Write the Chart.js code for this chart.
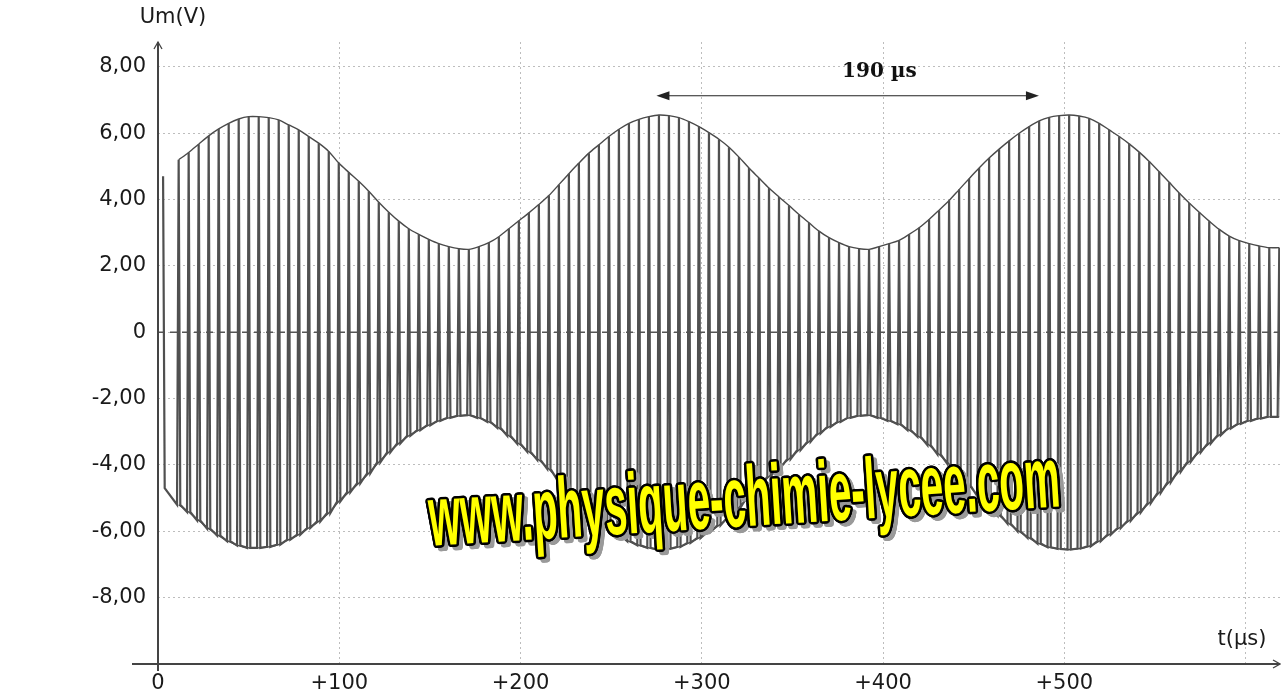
<!DOCTYPE html>
<html>
<head>
<meta charset="utf-8">
<title>Um(t)</title>
<script src="https://cdn.jsdelivr.net/npm/chart.js@4.4.1/dist/chart.umd.min.js"></script>
<style>
body { margin: 0; background: #fff; }
#wrap { width: 1281px; height: 699px; }
</style>
</head>
<body>
<div id="wrap"><canvas id="scope" width="1281" height="699"></canvas></div>
<script>
// peak voltage of every carrier cycle, read along the envelope (V)
let peakVolts = [
    5.2, 5.42, 5.67, 5.92, 6.13, 6.3, 6.43, 6.5, 6.5, 6.47,
    6.4, 6.25, 6.1, 5.9, 5.7, 5.45, 5.1, 4.82, 4.55, 4.25,
    3.92, 3.62, 3.35, 3.12, 2.95, 2.8, 2.67, 2.58, 2.52, 2.5,
    2.58, 2.7, 2.88, 3.12, 3.36, 3.6, 3.85, 4.12, 4.45, 4.78,
    5.1, 5.4, 5.65, 5.9, 6.12, 6.3, 6.42, 6.5, 6.55, 6.53,
    6.47, 6.35, 6.2, 6.02, 5.82, 5.58, 5.28, 4.95, 4.65, 4.35,
    4.08, 3.82, 3.55, 3.3, 3.05, 2.85, 2.7, 2.58, 2.52, 2.5,
    2.58, 2.67, 2.77, 2.95, 3.15, 3.4, 3.68, 3.97, 4.3, 4.63,
    4.95, 5.25, 5.52, 5.77, 6.0, 6.2, 6.37, 6.48, 6.53, 6.55,
    6.52, 6.45, 6.3, 6.1, 5.9, 5.68, 5.43, 5.15, 4.84, 4.52,
    4.2, 3.9, 3.62, 3.35, 3.1, 2.9, 2.76, 2.67, 2.6, 2.55,
    2.55
];
let firstPeak = 10.5;      // µs
let carrierPeriod = 5.52;  // µs
let leadTimes = [2.8];     // lone stroke at the very start
let leadVolts = [4.7];

let xTicks = [0, 100, 200, 300, 400, 500, 600];
let yTicks = [-8, -6, -4, -2, 0, 2, 4, 6, 8];

let periodLabel = "190 µs";
let periodFrom = 275;
let periodTo = 486;
let periodLevel = 7.13;

let siteText = "www.physique-chimie-lycee.com";


let carrierPoints = [];
for (let i = 0; i < leadTimes.length; i++) {
    carrierPoints.push({ x: leadTimes[i], y: leadVolts[i] });
    carrierPoints.push({ x: leadTimes[i] + 0.9, y: -leadVolts[i] });
}
let upperPoints = [];
let lowerPoints = [];
peakVolts.forEach((v, i) => {
    let t = firstPeak + i * carrierPeriod;
    carrierPoints.push({ x: t, y: -v });
    carrierPoints.push({ x: t + 0.9, y: v });
    carrierPoints.push({ x: t + 1.8, y: -v });
    upperPoints.push({ x: t + 0.9, y: v });
    lowerPoints.push({ x: t + 0.9, y: -v });
});


function chevron(ctx, x, y, dir) {
    ctx.beginPath();
    if (dir === "up") {
        ctx.moveTo(x - 4, y + 7);
        ctx.lineTo(x, y);
        ctx.lineTo(x + 4, y + 7);
    } else {
        ctx.moveTo(x - 7, y - 4);
        ctx.lineTo(x, y);
        ctx.lineTo(x - 7, y + 4);
    }
    ctx.stroke();
}

function arrowHead(ctx, x, y, dir) {
    ctx.beginPath();
    ctx.moveTo(x, y);
    ctx.lineTo(x - dir * 13, y - 4.5);
    ctx.lineTo(x - dir * 13, y + 4.5);
    ctx.closePath();
    ctx.fill();
}

let zeroLine = {
    id: "zeroLine",
    beforeDatasetsDraw(chart) {
        let ctx = chart.ctx;
        let area = chart.chartArea;
        let y0 = chart.scales.y.getPixelForValue(0);
        ctx.save();
        ctx.strokeStyle = "#555";
        ctx.lineWidth = 1.3;
        ctx.setLineDash([7, 5]);
        ctx.beginPath();
        ctx.moveTo(area.left, y0);
        ctx.lineTo(area.right, y0);
        ctx.stroke();
        ctx.restore();
    }
};

let decorations = {
    id: "decorations",
    afterDraw(chart) {
        let ctx = chart.ctx;
        let area = chart.chartArea;
        let xs = chart.scales.x;
        let ys = chart.scales.y;

        ctx.save();
        // axes
        ctx.strokeStyle = "#444";
        ctx.lineWidth = 2;
        ctx.beginPath();
        ctx.moveTo(area.left, area.top);
        ctx.lineTo(area.left, area.bottom + 7);
        ctx.moveTo(area.left - 26, area.bottom);
        ctx.lineTo(area.right, area.bottom);
        ctx.stroke();
        ctx.lineWidth = 1.3;
        chevron(ctx, area.left, area.top, "up");
        chevron(ctx, area.right, area.bottom, "right");

        // axis titles
        ctx.fillStyle = "#1a1a1a";
        ctx.font = "21px 'DejaVu Sans'";
        ctx.textAlign = "center";
        ctx.textBaseline = "middle";
        ctx.fillText("Um(V)", area.left + 15, 18);
        ctx.fillText("t(µs)", area.right - 38, area.bottom - 24);

        // period arrow
        let ax1 = xs.getPixelForValue(periodFrom);
        let ax2 = xs.getPixelForValue(periodTo);
        let ay = ys.getPixelForValue(periodLevel);
        ctx.strokeStyle = "#222";
        ctx.fillStyle = "#222";
        ctx.lineWidth = 1.2;
        ctx.beginPath();
        ctx.moveTo(ax1 + 4, ay);
        ctx.lineTo(ax2 - 4, ay);
        ctx.stroke();
        arrowHead(ctx, ax1, ay, -1);
        arrowHead(ctx, ax2, ay, 1);
        ctx.font = "bold 20px 'DejaVu Serif'";
        ctx.fillStyle = "#111";
        ctx.fillText(periodLabel, xs.getPixelForValue(398), ys.getPixelForValue(7.85));

        // yellow site watermark
        ctx.font = "bold 86px 'Liberation Sans'";
        ctx.textAlign = "center";
        ctx.textBaseline = "alphabetic";
        let sx = 632 / ctx.measureText(siteText).width;
        let cx = 746, cy = 526, ang = -3.6 * Math.PI / 180;
        let put = (dx, dy, color) => {
            ctx.save();
            ctx.translate(cx, cy);
            ctx.rotate(ang);
            ctx.translate(dx, dy);
            ctx.scale(sx, 1);
            ctx.fillStyle = color;
            ctx.fillText(siteText, 0, 0);
            ctx.restore();
        };
        for (let k = 0; k < 16; k++) {
            let a = k * Math.PI / 8;
            put(4 + 2 * Math.cos(a), 4 + 2 * Math.sin(a), "#9a9a9a");
        }
        for (let k = 0; k < 16; k++) {
            let a = k * Math.PI / 8;
            put(2.5 * Math.cos(a), 2.5 * Math.sin(a), "#000");
        }
        put(0, 0, "#ffff00");
        ctx.restore();
    }
};


new Chart(document.getElementById("scope"), {
    type: "line",
    data: {
        datasets: [{
            data: carrierPoints,
            borderColor: "#505050",
            borderWidth: 2.2,
            pointRadius: 0,
            tension: 0
        }, {
            data: upperPoints,
            borderColor: "#4a4a4a",
            borderWidth: 1.4,
            pointRadius: 0,
            tension: 0.3
        }, {
            data: lowerPoints,
            borderColor: "#4a4a4a",
            borderWidth: 1.4,
            pointRadius: 0,
            tension: 0.3
        }]
    },
    options: {
        responsive: false,
        animation: false,
        events: [],
        layout: { padding: { top: 42, right: 1, left: 0, bottom: 0 } },
        plugins: {
            legend: { display: false },
            tooltip: { enabled: false }
        },
        scales: {
            x: {
                type: "linear",
                min: 0,
                max: 619,
                afterBuildTicks: (scale) => { scale.ticks = xTicks.map(v => ({ value: v })); },
                afterFit: (scale) => { scale.height = 35; },
                grid: { color: "#bdbdbd", lineWidth: 1, drawTicks: false },
                border: { display: false, dash: [2, 3] },
                ticks: {
                    padding: 7,
                    color: "#1a1a1a",
                    font: { family: "DejaVu Sans", size: 21 },
                    maxRotation: 0,
                    autoSkip: false,
                    callback: (v) => v === 600 ? "" : (v === 0 ? "0" : "+" + v)
                }
            },
            y: {
                min: -10,
                max: 8.75,
                afterBuildTicks: (scale) => { scale.ticks = yTicks.map(v => ({ value: v })); },
                afterFit: (scale) => { scale.width = 158; },
                grid: { color: "#bdbdbd", lineWidth: 1, drawTicks: false },
                border: { display: false, dash: [2, 3] },
                ticks: {
                    padding: 12,
                    color: "#1a1a1a",
                    font: { family: "DejaVu Sans", size: 21 },
                    callback: (v) => v === 0 ? "0" : v.toFixed(2).replace(".", ",")
                }
            }
        }
    },
    plugins: [zeroLine, decorations]
});
</script>
</body>
</html>
